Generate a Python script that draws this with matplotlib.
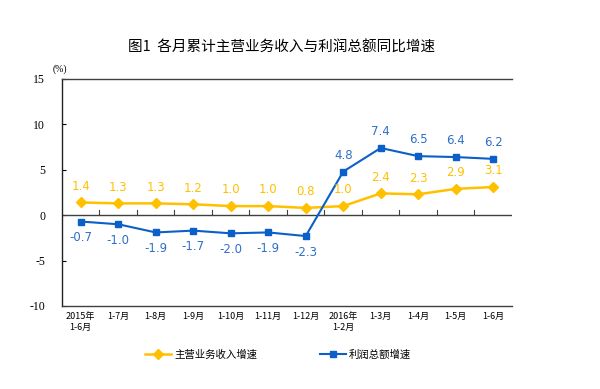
import matplotlib
matplotlib.use("Agg")
import matplotlib.pyplot as plt
import numpy as np

plt.rcParams['font.family'] = ['Noto Sans CJK SC', 'DejaVu Sans']

categories = ["2015年\n1-6月", "1-7月", "1-8月", "1-9月", "1-10月", "1-11月", "1-12月",
              "2016年\n1-2月", "1-3月", "1-4月", "1-5月", "1-6月"]
revenue = [1.4, 1.3, 1.3, 1.2, 1.0, 1.0, 0.8, 1.0, 2.4, 2.3, 2.9, 3.1]
profit = [-0.7, -1.0, -1.9, -1.7, -2.0, -1.9, -2.3, 4.8, 7.4, 6.5, 6.4, 6.2]
yticks = [-10, -5, 0, 5, 10, 15]

YELLOW = "#FFC000"
BLUE = "#0A5FC8"

fig = plt.figure(figsize=(6, 3.89), dpi=100)
ax = fig.add_axes([0.1033, 0.2134, 0.7500, 0.5836])

x = np.arange(len(categories))
ax.plot(x, revenue, color=YELLOW, lw=1.8, marker="D", ms=5, label="主营业务收入增速", zorder=3)
ax.plot(x, profit, color=BLUE, lw=1.5, marker="s", ms=4.5, label="利润总额增速", zorder=3)

for xi, v in zip(x, revenue):
    ax.annotate(f"{v:.1f}", (xi, v), xytext=(0, 7), textcoords="offset points",
                ha="center", va="bottom", color=YELLOW, fontsize=8.5, family="DejaVu Sans")
for xi, v in zip(x, profit):
    off = 7 if v > 0 else -7
    ax.annotate(f"{v:.1f}", (xi, v), xytext=(0, off), textcoords="offset points",
                ha="center", va="bottom" if v > 0 else "top", color="#2E6FC8",
                fontsize=8.5, family="DejaVu Sans")

ax.set_xlim(-0.5, len(categories) - 0.5)
ax.set_ylim(-10, 15)
ax.set_yticks(yticks)
ax.set_yticklabels([str(t) for t in yticks], family="Liberation Serif", fontsize=8.5)
ax.tick_params(axis="y", direction="in", length=3, pad=12, width=0.8)

# category axis crossing at zero with ticks between categories
ax.axhline(0, color="#404040", lw=1.0, zorder=2)
for b in np.arange(0.5, len(categories) - 0.5, 1):
    ax.plot([b, b], [0, 0.6], color="#404040", lw=0.8, zorder=2)

ax.set_xticks(x)
ax.set_xticklabels(categories, fontsize=6.5, linespacing=1.4)
ax.tick_params(axis="x", length=0, pad=4)

for s in ["top", "bottom"]:
    ax.spines[s].set_color("#404040")
    ax.spines[s].set_linewidth(1.0)
ax.spines["left"].set_color("#202020")
ax.spines["left"].set_linewidth(1.0)
ax.spines["right"].set_visible(False)

fig.text(0.47, 0.877, "图1  各月累计主营业务收入与利润总额同比增速", ha="center", va="center",
         fontsize=10.5, fontweight="medium")
fig.text(0.1, 0.823, "(%)", ha="center", va="center", fontsize=7, family="Liberation Serif")

ax.legend(loc="center", bbox_to_anchor=(0.48, -0.215), ncol=2, frameon=False,
          fontsize=7.5, handlelength=2.5, columnspacing=6, handletextpad=0.3)

fig.savefig("out.png", dpi=100)
